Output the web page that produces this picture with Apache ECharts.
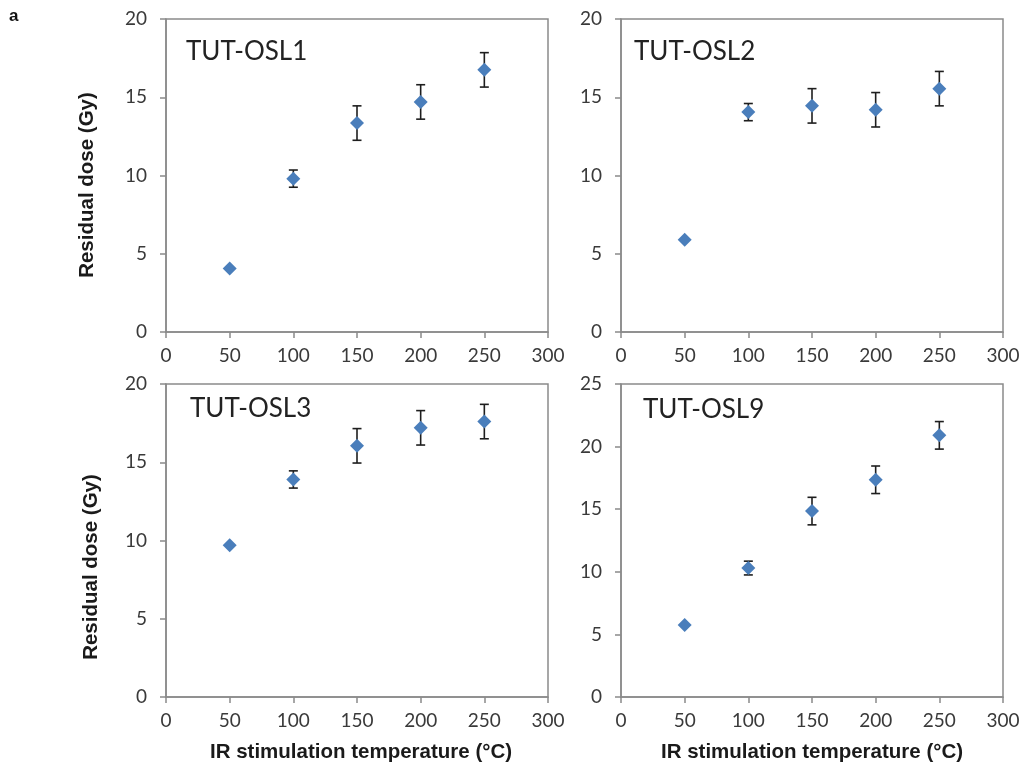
<!DOCTYPE html>
<html>
<head>
<meta charset="utf-8">
<title>Residual dose vs IR stimulation temperature</title>
<script src="https://cdn.jsdelivr.net/npm/echarts@6/dist/echarts.min.js"></script>
<style>
  html, body { margin: 0; padding: 0; background: #ffffff; }
  #chart { width: 1024px; height: 770px; }
</style>
</head>
<body>
<div id="chart"></div>
<script>
// IR stimulation temperatures (°C)
var temperatures = [50, 100, 150, 200, 250];

// Residual dose (Gy) and 1-sigma uncertainty for each sample
var osl1Dose = [4.05, 9.8, 13.35, 14.7, 16.75];
var osl1Err  = [0, 0.55, 1.1, 1.1, 1.1];
var osl2Dose = [5.9, 14.05, 14.45, 14.2, 15.55];
var osl2Err  = [0, 0.55, 1.1, 1.1, 1.1];
var osl3Dose = [9.7, 13.9, 16.05, 17.2, 17.6];
var osl3Err  = [0, 0.55, 1.1, 1.1, 1.1];
var osl9Dose = [5.75, 10.3, 14.85, 17.35, 20.9];
var osl9Err  = [0, 0.55, 1.1, 1.1, 1.1];

var sampleNames = ['TUT-OSL1', 'TUT-OSL2', 'TUT-OSL3', 'TUT-OSL9'];
var doseMax = [20, 20, 20, 25];
var xTicks = [0, 50, 100, 150, 200, 250, 300];

var panels = [
  { name: sampleNames[0], dose: osl1Dose, err: osl1Err },
  { name: sampleNames[1], dose: osl2Dose, err: osl2Err },
  { name: sampleNames[2], dose: osl3Dose, err: osl3Err },
  { name: sampleNames[3], dose: osl9Dose, err: osl9Err }
];

var gridBoxes = [
  { left: 166, top: 19,  width: 382, height: 313 },
  { left: 621, top: 19,  width: 382, height: 313 },
  { left: 166, top: 384, width: 382, height: 313 },
  { left: 621, top: 384, width: 382, height: 313 }
];

var axisGray = '#8a8a8a';
var tickFont = { fontFamily: 'Lato', fontSize: 19, color: '#3a3a3a' };

var grids = [], xAxes = [], yAxes = [], series = [];

panels.forEach(function (p, i) {
  var g = gridBoxes[i];
  grids.push({
    left: g.left, top: g.top, width: g.width, height: g.height,
    show: true, borderColor: axisGray, borderWidth: 1.5, backgroundColor: '#ffffff'
  });
  xAxes.push({
    gridIndex: i, type: 'value',
    min: xTicks[0], max: xTicks[xTicks.length - 1], interval: 50,
    axisLine: { show: true, onZero: false, lineStyle: { color: axisGray, width: 1.5 } },
    axisTick: { show: true, inside: false, length: 6, lineStyle: { color: axisGray, width: 1.5 } },
    axisLabel: Object.assign({ margin: 14, showMinLabel: true, showMaxLabel: true }, tickFont),
    splitLine: { show: false }
  });
  yAxes.push({
    gridIndex: i, type: 'value',
    min: 0, max: doseMax[i], interval: 5,
    axisLine: { show: true, onZero: false, lineStyle: { color: axisGray, width: 1.5 } },
    axisTick: { show: true, inside: false, length: 6, lineStyle: { color: axisGray, width: 1.5 } },
    axisLabel: Object.assign({ margin: 19 }, tickFont),
    splitLine: { show: false }
  });

  // error bars: [temperature, lower, upper]
  var barData = [];
  temperatures.forEach(function (t, k) {
    if (p.err[k] > 0) barData.push([t, p.dose[k] - p.err[k], p.dose[k] + p.err[k]]);
  });
  series.push({
    type: 'custom',
    xAxisIndex: i, yAxisIndex: i,
    z: 2,
    silent: true,
    encode: { x: 0, y: [1, 2] },
    data: barData,
    renderItem: function (params, api) {
      var t = api.value(0);
      var top = api.coord([t, api.value(2)]);
      var bot = api.coord([t, api.value(1)]);
      var hw = 4.5;
      var st = { stroke: '#1e1e1e', lineWidth: 1.6 };
      return {
        type: 'group',
        children: [
          { type: 'line', shape: { x1: top[0], y1: top[1], x2: bot[0], y2: bot[1] }, style: st },
          { type: 'line', shape: { x1: top[0] - hw, y1: top[1], x2: top[0] + hw, y2: top[1] }, style: st },
          { type: 'line', shape: { x1: bot[0] - hw, y1: bot[1], x2: bot[0] + hw, y2: bot[1] }, style: st }
        ]
      };
    }
  });

  series.push({
    type: 'scatter',
    name: p.name,
    xAxisIndex: i, yAxisIndex: i,
    z: 3,
    symbol: 'diamond',
    symbolSize: [14, 14],
    itemStyle: { color: '#4a7ebb', opacity: 1 },
    data: temperatures.map(function (t, k) { return [t, p.dose[k]]; })
  });
});

var titlePos = [[186, 52], [634, 52], [190, 409], [643, 410]];
var graphics = [];
panels.forEach(function (p, i) {
  graphics.push({
    type: 'text', x: titlePos[i][0], y: titlePos[i][1], z: 10,
    style: { text: p.name, fontFamily: 'Lato', fontSize: 26, fill: '#222222',
             textAlign: 'left', textVerticalAlign: 'middle' }
  });
});

var yTitle = 'Residual dose (Gy)';
var xTitle = 'IR stimulation temperature (°C)';
var boldFont = { fontFamily: 'Liberation Sans', fontWeight: 'bold', fontSize: 20.5, fill: '#1a1a1a',
                 textAlign: 'center', textVerticalAlign: 'middle' };

graphics.push({ type: 'text', x: 87, y: 185, rotation: Math.PI / 2, z: 10,
  style: Object.assign({ text: yTitle }, boldFont) });
graphics.push({ type: 'text', x: 91, y: 567, rotation: Math.PI / 2, z: 10,
  style: Object.assign({ text: yTitle }, boldFont) });
graphics.push({ type: 'text', x: 361, y: 752, z: 10,
  style: Object.assign({ text: xTitle }, boldFont) });
graphics.push({ type: 'text', x: 812, y: 752, z: 10,
  style: Object.assign({ text: xTitle }, boldFont) });
graphics.push({ type: 'text', x: 9, y: 16, z: 10,
  style: { text: 'a', fontFamily: 'Liberation Sans', fontWeight: 'bold', fontSize: 17, fill: '#111111',
           textAlign: 'left', textVerticalAlign: 'middle' } });

var chart = echarts.init(document.getElementById('chart'), null, { renderer: 'canvas' });
chart.setOption({
  animation: false,
  backgroundColor: '#ffffff',
  grid: grids,
  xAxis: xAxes,
  yAxis: yAxes,
  series: series,
  graphic: graphics
});
</script>
</body>
</html>
